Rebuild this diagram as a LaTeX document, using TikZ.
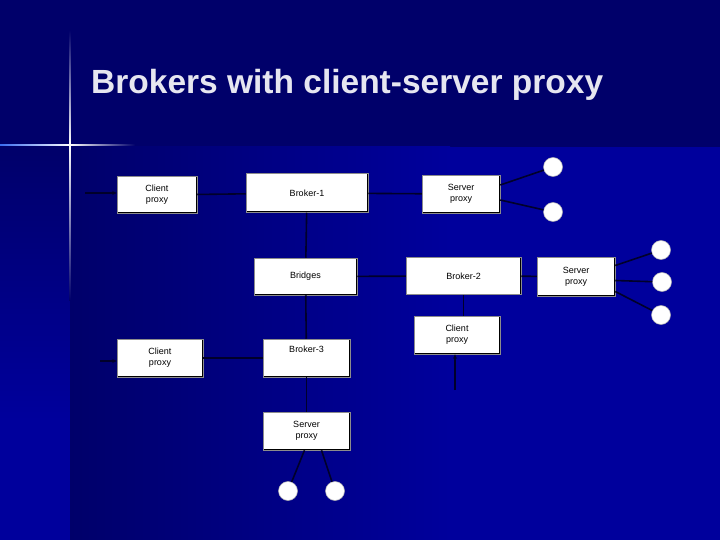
\documentclass[tikz,border=0pt]{standalone}
\usepackage{fontspec}
\setmainfont{Liberation Sans}
\usepackage{xcolor}
\usetikzlibrary{arrows.meta,positioning,calc}
\definecolor{topbg}{HTML}{00006A}
\definecolor{lowbg}{HTML}{00009C}
\definecolor{flareblue}{HTML}{3A6CF0}
\definecolor{titlecol}{HTML}{E6E6F0}
\definecolor{linecol}{HTML}{00002A}

\begin{document}
\begin{tikzpicture}[x=1pt,y=-1pt,>={Stealth[length=4.5pt,width=4pt]},every node/.style={align=center,font=\fontsize{9}{11}\selectfont},box/.style={fill=white,draw=black!45,line width=0.5pt,inner sep=2pt,path picture={\draw[black,line width=2pt] (path picture bounding box.north east)--(path picture bounding box.south east)--(path picture bounding box.south west);}},leaf/.style={circle,fill=white,draw=black!30,line width=0.5pt,minimum size=19pt,inner sep=0pt},wire/.style={draw=linecol,line width=1.6pt}]
\useasboundingbox (0,0) rectangle (720,540);
\fill[topbg] (0,0) rectangle (720,540);
\shade[top color=topbg,bottom color=lowbg] (0,147) rectangle (70,420);\fill[lowbg] (0,420) rectangle (70,540);
\shade[left color=topbg,right color=lowbg] (70,147) rectangle (450,540);\fill[lowbg] (450,147) rectangle (720,540);
\shade[top color=topbg,bottom color=white] (69.2,30) rectangle (70.8,145);\shade[top color=white,bottom color=topbg] (69.2,145) rectangle (70.8,300);
\shade[left color=flareblue,right color=white] (0,144.2) rectangle (70,145.8);\shade[left color=white,right color=topbg] (70,144.2) rectangle (135,145.8);
\fill[white] (70,145) circle (1.6);
\node[anchor=base west,font=\bfseries\fontsize{33.5}{40}\selectfont,text=titlecol,inner sep=0pt] (title) at (91,94) {Brokers with client-server proxy};
\node[box,minimum width=80pt,minimum height=37pt] (cpa) at (157,195) {Client\\proxy};
\node[box,minimum width=122pt,minimum height=39pt] (bra) at (307,193) {Broker-1};
\node[box,minimum width=78pt,minimum height=38pt] (spa) at (461,194) {Server\\proxy};
\node[box,minimum width=103pt,minimum height=37pt] (brg) at (305.5,276.5) {Bridges};
\node[box,minimum width=115pt,minimum height=37pt] (brb) at (463.5,276) {Broker-2};
\node[box,minimum width=78pt,minimum height=39pt] (spb) at (576,276.5) {Server\\proxy};
\node[box,minimum width=86pt,minimum height=38pt] (cpc) at (457,335) {Client\\proxy};
\node[box,minimum width=86pt,minimum height=38pt] (cpb) at (160,358) {Client\\proxy};
\node[box,minimum width=87pt,minimum height=38pt] (brc) at (306.5,358) {Broker-3\\[6pt]};
\node[box,minimum width=87pt,minimum height=38pt] (spc) at (306.5,431) {Server\\proxy};
\node[leaf] (la1) at (553,167) {};\node[leaf] (la2) at (553,212) {};
\node[leaf] (lb1) at (661,250) {};\node[leaf] (lb2) at (662,282) {};\node[leaf] (lb3) at (661,315) {};
\node[leaf] (lc1) at (288,491) {};\node[leaf] (lc2) at (335,491) {};
\coordinate (ina) at (85,193);\coordinate (inb) at (100,361);\coordinate (inc) at (455,390);
\draw[wire,->] (ina)--(ina-|cpa.west);\draw[wire,->] (inb)--(inb-|cpb.west);\draw[wire,->] (inc)--(inc|-cpc.south);
\draw[wire] (cpa)--(bra);\draw[wire] (bra)--(spa);\draw[wire] (bra)--(brg);
\draw[wire] (brg)--(brb);\draw[wire] (brb)--(spb);\draw[wire] (brb)--(brb|-cpc.north);
\draw[wire] (cpb)--(brc);\draw[wire] (brg)--(brc);\draw[wire] (brc)--(spc);
\draw[wire] ([yshift=9pt]spa.east)--(la1);\draw[wire] ([yshift=-6pt]spa.east)--(la2);
\draw[wire] ([yshift=11pt]spb.east)--(lb1);\draw[wire] ([yshift=-4pt]spb.east)--(lb2);\draw[wire] ([yshift=-15pt]spb.east)--(lb3);
\draw[wire] ([xshift=-2pt]spc.south)--(lc1);\draw[wire] ([xshift=15pt]spc.south)--(lc2);
\end{tikzpicture}
\end{document}
